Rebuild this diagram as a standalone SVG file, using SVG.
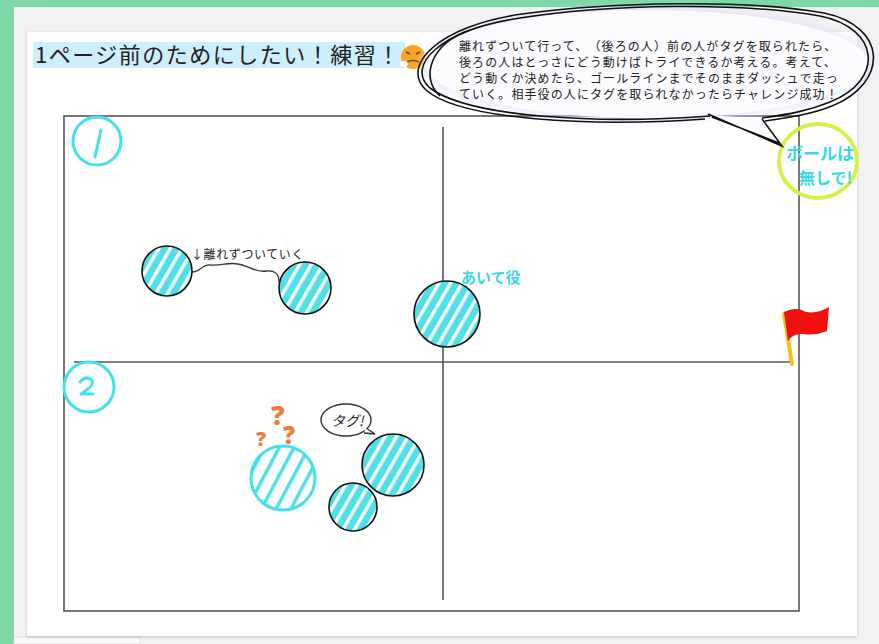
<svg xmlns="http://www.w3.org/2000/svg" width="879" height="644" viewBox="0 0 879 644">
  <style>
    .jp { font-family: "Noto Sans CJK JP", "Noto Sans", sans-serif; text-spacing-trim: space-all; }
    .field { fill: none; stroke: #555; stroke-width: 1.6; }
    .player { fill: url(#stripes); stroke: #111; stroke-width: 1.6; }
    .num { fill: none; stroke: #44e2e8; stroke-width: 3; }
    .cyanText { fill: #3ad8e4; font-weight: 700; }
    .bubble { fill: none; stroke: #111; stroke-width: 1.6; }
    .q { fill: #f07a3a; font-family: "Noto Sans", sans-serif; font-weight: 900; }
  </style>
  <defs>
    <pattern id="stripes" patternUnits="userSpaceOnUse" width="10" height="10" patternTransform="rotate(30)">
      <rect width="10" height="10" fill="#4fdfe6"/>
      <rect x="0" width="3.5" height="10" fill="#ffffff" fill-opacity="0.95"/>
    </pattern>
    <pattern id="stripesLight" patternUnits="userSpaceOnUse" width="13" height="13" patternTransform="rotate(28)">
      <rect width="13" height="13" fill="#ffffff"/>
      <rect x="0" width="3.5" height="13" fill="#4fdfe6"/>
    </pattern>
    <filter id="shadow" x="-5%" y="-5%" width="110%" height="110%">
      <feDropShadow dx="0" dy="1" stdDeviation="1.5" flood-color="#000" flood-opacity="0.2"/>
    </filter>
    <filter id="glow" x="-10%" y="-30%" width="120%" height="160%">
      <feGaussianBlur stdDeviation="3"/>
    </filter>
  </defs>

  <!-- window background -->
  <rect width="879" height="644" fill="#7fd7a6"/>
  <rect x="14" y="7" width="865" height="637" fill="#f2f2f2"/>
  <rect x="14" y="637" width="126" height="7" fill="#fafafa" stroke="#ddd" stroke-width="1"/>

  <!-- page -->
  <rect x="27" y="32" width="830" height="604" fill="#ffffff" filter="url(#shadow)"/>

  <!-- title -->
  <g id="title">
    <rect x="33" y="42" width="372" height="26" fill="#cdeefb"/>
    <text class="jp" x="35" y="63" font-size="22" letter-spacing="1.5" fill="#222">1ページ前のためにしたい！練習！</text>
    <g id="emoji">
      <circle cx="413" cy="57" r="12" fill="#f5a623"/>
      <path d="M406,52 l4,2 M420,52 l-4,2" stroke="#7a3b00" stroke-width="1.5" fill="none"/>
      <path d="M407,62 q6,-3 12,0" stroke="#7a3b00" stroke-width="1.5" fill="none"/>
      <ellipse cx="404" cy="64" rx="4" ry="3" fill="#ffffff"/>
    </g>
  </g>

  <!-- playing field -->
  <g id="field">
    <rect class="field" x="64" y="116" width="735" height="495"/>
    <line class="field" x1="443" y1="127" x2="443" y2="600"/>
    <line class="field" x1="74" y1="362" x2="790" y2="362"/>
  </g>

  <!-- section numbers -->
  <g id="num1">
    <circle class="num" cx="97" cy="141" r="24"/>
    <line x1="101" y1="130" x2="95" y2="157" stroke="#44e2e8" stroke-width="3" stroke-linecap="round"/>
  </g>
  <g id="num2">
    <circle class="num" cx="89" cy="387" r="25"/>
    <path d="M80,382 q6,-7 12,-2 q2,4 -4,9 l-7,5 l12,0" fill="none" stroke="#44e2e8" stroke-width="3" stroke-linecap="round" stroke-linejoin="round"/>
  </g>

  <!-- section 1 players -->
  <g id="connectors">
    <path d="M192,272 C200,272 203,264 210,265 C222,266 228,262 238,264 C250,266 256,273 266,271 C275,270 279,274 279,282" fill="none" stroke="#333" stroke-width="1.3"/>
  </g>
  <g id="runner-front">
    <circle class="player" cx="167" cy="271" r="25"/>
  </g>
  <g id="runner-back">
    <circle class="player" cx="305" cy="288" r="26"/>
    <text class="jp" x="191" y="259" font-size="12" letter-spacing="0.6" fill="#222">↓離れずついていく</text>
  </g>
  <g id="opponent">
    <circle class="player" cx="447" cy="314" r="33"/>
    <text class="jp cyanText" x="461" y="283" font-size="15">あいて役</text>
  </g>

  <!-- section 2 players -->
  <g id="confused-runner">
    <circle cx="283" cy="478" r="32" fill="url(#stripesLight)" stroke="#44e2e8" stroke-width="3"/>
    <text class="q" x="256" y="446" font-size="20">?</text>
    <text class="q" x="271" y="425" font-size="27">?</text>
    <text class="q" x="283" y="444" font-size="24">?</text>
  </g>
  <g id="tagger">
    <circle class="player" cx="393" cy="465" r="31"/>
    <ellipse cx="346" cy="420" rx="25" ry="16" fill="#fff" stroke="#333" stroke-width="1.4"/>
    <path d="M366,428 L375,434 L364,433" fill="#fff" stroke="#333" stroke-width="1.4"/>
    <line x1="363" y1="430" x2="366" y2="428" stroke="#fff" stroke-width="2"/>
    <text class="jp" x="331" y="426" font-size="14" font-style="italic" fill="#222">タグ!</text>
  </g>
  <g id="partner">
    <circle class="player" cx="353" cy="507" r="24"/>
  </g>

  <!-- goal flag -->
  <g id="flag">
    <line x1="784" y1="314" x2="792" y2="364" stroke="#f5c21a" stroke-width="4" stroke-linecap="round"/>
    <path d="M784,312 Q796,306 806,312 Q818,314 829,307 L827,331 Q815,336 803,334 Q793,333 788,341 Z" fill="#f01010"/>
  </g>

  <!-- note: no ball -->
  <g id="no-ball">
    <ellipse cx="818" cy="161" rx="39" ry="37" fill="none" stroke="#d6f04a" stroke-width="4"/>
    <text class="jp cyanText" x="786" y="160" font-size="17">ボールは</text>
    <text class="jp cyanText" x="799" y="184" font-size="16">無しで!</text>
  </g>

  <!-- explanation balloon -->
  <g id="explanation">
    <ellipse cx="647" cy="64" rx="226" ry="57" fill="#dfe2f8" filter="url(#glow)" opacity="0.8"/>
    <ellipse cx="647" cy="64" rx="222" ry="54" fill="#fbfbfe"/>
    <path d="M709,115 L782,146 L762,119" fill="#fbfbfe"/>
    <path class="bubble" d="M710,116 C600,124 470,118 430,88 C405,66 440,30 520,18 C610,4 740,2 820,16 C880,28 885,80 830,102 C808,111 790,114 762,118"/>
    <path class="bubble" d="M705,119 C590,127 460,120 426,90 C400,66 438,26 522,14 C612,2 744,-1 824,13 C887,26 890,82 832,106 C812,114 792,117 765,121"/>
    <path class="bubble" d="M708,114 L782,146 L762,119 M712,117 L779,143"/>
    <path class="bubble" d="M440,96 C420,78 430,44 470,30" />
    <text class="jp" x="459" y="51" font-size="12" letter-spacing="1.1" fill="#222">離れずついて行って、（後ろの人）前の人がタグを取られたら、</text>
    <text class="jp" x="459" y="67" font-size="12" letter-spacing="1.1" fill="#222">後ろの人はとっさにどう動けばトライできるか考える。考えて、</text>
    <text class="jp" x="459" y="83" font-size="12" letter-spacing="1.1" fill="#222">どう動くか決めたら、ゴールラインまでそのままダッシュで走っ</text>
    <text class="jp" x="459" y="99" font-size="12" letter-spacing="1.1" fill="#222">ていく。相手役の人にタグを取られなかったらチャレンジ成功！</text>
  </g>
</svg>
